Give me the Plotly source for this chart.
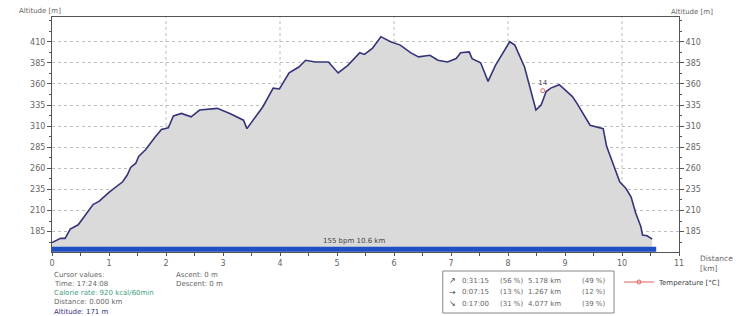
import plotly.graph_objects as go

# ---- data ----
distance_km = [0.0, 0.15, 0.23, 0.32, 0.46, 0.72, 0.83, 1.01, 1.24, 1.32, 1.38, 1.47, 1.52, 1.64,
               1.81, 1.92, 2.04, 2.13, 2.27, 2.44, 2.59, 2.73, 2.90, 3.12, 3.36, 3.42, 3.70, 3.88,
               3.99, 4.16, 4.33, 4.45, 4.62, 4.85, 5.02, 5.19, 5.40, 5.48, 5.62, 5.77, 5.94, 6.11,
               6.29, 6.43, 6.63, 6.77, 6.94, 7.09, 7.17, 7.32, 7.37, 7.52, 7.65, 7.78, 8.03, 8.12,
               8.29, 8.49, 8.58, 8.67, 8.75, 8.90, 9.04, 9.13, 9.21, 9.44, 9.67, 9.73, 9.84, 9.96,
               10.07, 10.16, 10.24, 10.33, 10.36, 10.44, 10.53]
altitude_m = [172, 177, 177, 188, 193, 217, 221, 232, 244, 252, 261, 266, 274, 282,
              297, 306, 308, 322, 325, 321, 329, 330, 331, 325, 317, 307, 333, 355,
              354, 373, 380, 388, 386, 386, 373, 382, 397, 395, 402, 416, 410, 406,
              397, 392, 394, 388, 386, 390, 397, 398, 390, 385, 363, 382, 410, 406,
              380, 329, 335, 351, 355, 359, 351, 345, 337, 311, 307, 286, 266, 244,
              236, 226, 207, 191, 181, 180, 176]

hr_start_km = 0.0
hr_end_km = 10.6
hr_label = "155 bpm 10.6 km"

temp_km = [8.61]
temp_alt = [352]
temp_text = ["14"]

y_ticks = [185, 210, 235, 260, 285, 310, 335, 360, 385, 410]
x_ticks = list(range(0, 12))
x_grid_km = [2, 4, 6, 8, 10]

cursor_lines = ["Cursor values:", "Time: 17:24:08", "Calorie rate: 920 kcal/60min",
                "Distance: 0.000 km", "Altitude: 171 m"]
cursor_colors = ["#666666", "#666666", "#3f9f80", "#666666", "#34347a"]
ascent_lines = ["Ascent: 0 m", "Descent: 0 m"]

stat_arrows = ["\u2197", "\u2192", "\u2198"]
stat_times = ["0:31:15", "0:07:15", "0:17:00"]
stat_time_pct = ["(56 %)", "(13 %)", "(31 %)"]
stat_dist = ["5.178 km", "1.267 km", "4.077 km"]
stat_dist_pct = ["(49 %)", "(12 %)", "(39 %)"]

# ---- layout geometry (pixels) ----
W, H = 738, 316
L, R, T, B = 52, 49, 17, 64
PW, PH = W - L - R, H - T - B
Y_RANGE = [160.8, 439.3]
X_RANGE = [0, 11]
FONT = "DejaVu Sans"
GRAY = "#666666"
AX = "#555555"


def px(x):
    return (x - L) / PW


def py(y):
    return (H - B - y) / PH


fig = go.Figure()

fig.add_trace(go.Scatter(
    x=distance_km, y=altitude_m, mode="lines",
    line=dict(color="#34347a", width=1.6),
    fill="tozeroy", fillcolor="#dadada", showlegend=False, hoverinfo="skip"))

fig.add_trace(go.Scatter(
    x=[hr_start_km, hr_end_km], y=[164, 164], mode="lines",
    line=dict(color="#1f4fc4", width=5), showlegend=False, hoverinfo="skip",
    yaxis="y2"))

fig.add_trace(go.Scatter(
    x=temp_km, y=temp_alt, mode="lines+markers+text", text=temp_text,
    textposition="top center", textfont=dict(size=7, color="#444444", family=FONT),
    marker=dict(symbol="circle-open", size=4, color="#e06060", line=dict(width=1)),
    line=dict(color="#e06060", width=1),
    name="Temperature [°C]", showlegend=True, hoverinfo="skip"))

for g in x_grid_km:
    fig.add_shape(type="line", xref="x", yref="paper", x0=g, x1=g, y0=0, y1=1,
                  line=dict(color="#bdbdbd", width=1, dash="dot"), layer="below")

fig.add_annotation(x=(hr_start_km + hr_end_km) / 2, y=166.5, xref="x", yref="y",
                   text=hr_label, showarrow=False, yanchor="bottom",
                   font=dict(size=7, color="#444444", family=FONT))

ann = []
ann.append(dict(x=px(16), y=py(11), text="Altitude [m]", xanchor="left"))
ann.append(dict(x=px(726), y=py(12), text="Altitude [m]", xanchor="right"))
ann.append(dict(x=px(708), y=py(258), text="Distance", xanchor="left", size=7.5))
ann.append(dict(x=px(708), y=py(268), text="[km]", xanchor="left", size=7.5))
for i, t in enumerate(cursor_lines):
    ann.append(dict(x=px(52), y=py(274.5 + 9.3 * i), text=t, xanchor="left", color=cursor_colors[i]))
for i, t in enumerate(ascent_lines):
    ann.append(dict(x=px(176), y=py(274.5 + 9 * i), text=t, xanchor="left"))
for i in range(3):
    yy = py(280.5 + 11.5 * i)
    ann.append(dict(x=px(453), y=yy, text=stat_arrows[i], xanchor="left", color="#444444", size=8))
    ann.append(dict(x=px(467), y=yy, text=stat_times[i], xanchor="left"))
    ann.append(dict(x=px(505), y=yy, text=stat_time_pct[i], xanchor="left"))
    ann.append(dict(x=px(571), y=yy, text=stat_dist[i], xanchor="right"))
    ann.append(dict(x=px(588), y=yy, text=stat_dist_pct[i], xanchor="left"))

for a in ann:
    fig.add_annotation(x=a["x"], y=a["y"], xref="paper", yref="paper", text=a["text"],
                       showarrow=False, xanchor=a["xanchor"], yanchor="middle",
                       font=dict(size=a.get("size", 7), color=a.get("color", GRAY), family=FONT))

fig.add_shape(type="rect", xref="paper", yref="paper", x0=px(449), x1=px(623),
              y0=py(271), y1=py(313), line=dict(color="#888888", width=1))

fig.update_layout(
    width=W, height=H, margin=dict(l=L, r=R, t=T, b=B),
    paper_bgcolor="white", plot_bgcolor="white",
    font=dict(family=FONT, size=8, color=GRAY),
    legend=dict(x=px(628), y=py(282), xanchor="left", yanchor="middle",
                font=dict(size=7, color="#444444", family=FONT), bgcolor="rgba(0,0,0,0)",
                itemwidth=30, tracegroupgap=0),
    xaxis=dict(range=X_RANGE, tickvals=x_ticks, ticks="outside", ticklen=3, tickcolor=AX,
               showline=True, linecolor=AX, linewidth=1, mirror=True, showgrid=False,
               zeroline=False, tickfont=dict(size=8, color=GRAY),
               minor=dict(dtick=0.5, tick0=0, ticks="outside", ticklen=3, tickcolor=AX)),
    yaxis=dict(range=Y_RANGE, tickvals=y_ticks, ticks="outside", ticklen=4, tickcolor=AX,
               showline=True, linecolor=AX, linewidth=1, showgrid=True, gridcolor="#bdbdbd",
               griddash="dot", zeroline=False, tickfont=dict(size=8, color=GRAY),
               minor=dict(dtick=12.5, tick0=185, ticks="outside", ticklen=2, tickcolor=AX)),
    yaxis2=dict(range=Y_RANGE, tickvals=y_ticks, overlaying="y", side="right", ticks="outside",
                ticklen=4, tickcolor=AX, showline=True, linecolor=AX, linewidth=1,
                showgrid=False, zeroline=False, tickfont=dict(size=8, color=GRAY),
                minor=dict(dtick=12.5, tick0=185, ticks="outside", ticklen=2, tickcolor=AX)),
)

fig.write_html("out.html", config={"displayModeBar": False},
               post_script="document.body.style.margin='0';document.body.style.overflow='hidden';")
